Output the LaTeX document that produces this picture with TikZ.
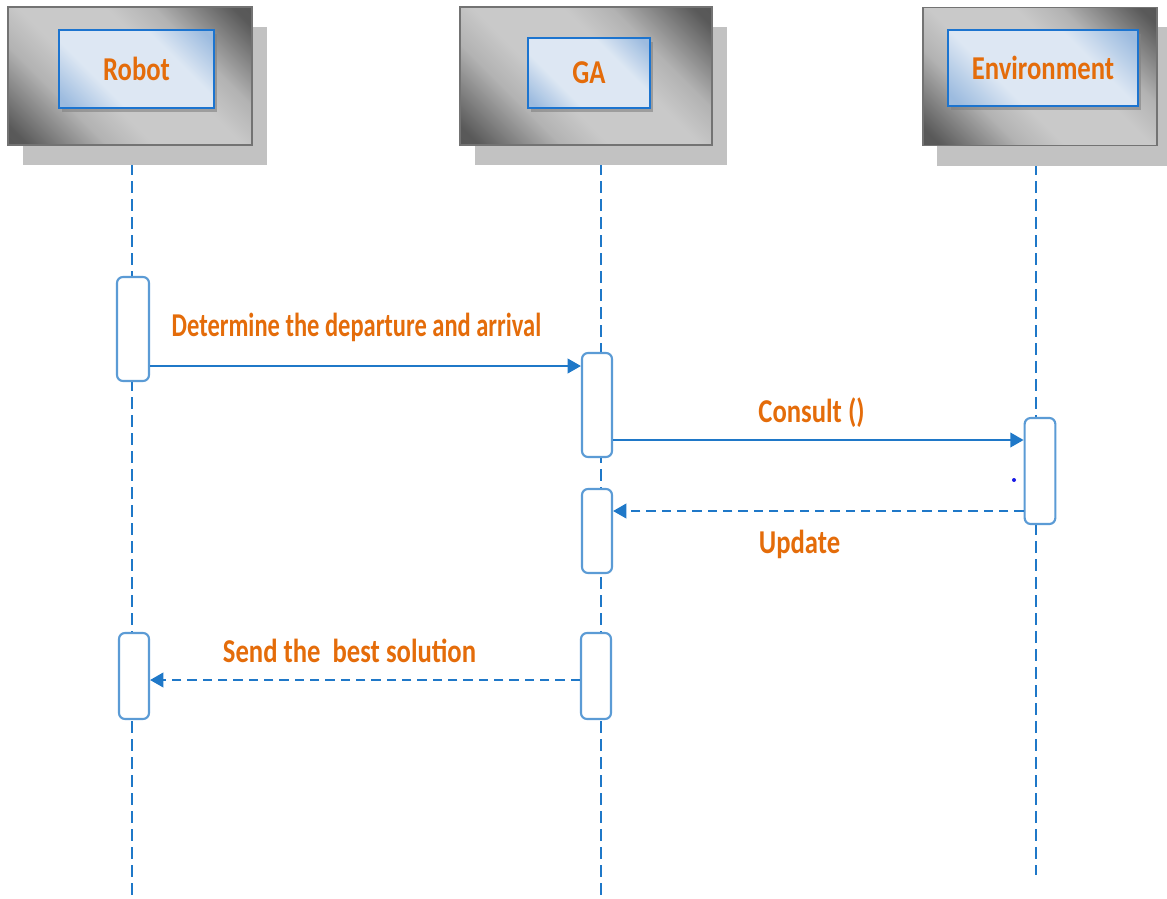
\documentclass[tikz,border=0pt]{standalone}
\usepackage{fontspec}
\setmainfont{Carlito}
\newfontfamily\diagfont{Carlito}[FakeStretch=0.8]
\newfontfamily\longfont{Carlito}[FakeStretch=0.735]
\usetikzlibrary{arrows.meta}

\definecolor{lifeblue}{HTML}{1F78C8}
\definecolor{actblue}{HTML}{5B9BD5}
\definecolor{hdrblue}{HTML}{1C74CF}
\definecolor{msgorange}{HTML}{E46C0A}
\definecolor{dotblue}{HTML}{1A1AE6}
\definecolor{paleblue}{HTML}{DDE7F3}
\definecolor{bandblue}{HTML}{9CBBDF}

\pgfdeclareverticalshading{hdrshade}{100bp}{color(0bp)=(black!68); color(18bp)=(black!65);
  color(33bp)=(black!30); color(42bp)=(black!21); color(58bp)=(black!21);
  color(67bp)=(black!30); color(82bp)=(black!65); color(100bp)=(black!68)}
\pgfdeclareverticalshading{nameshade}{100bp}{color(0bp)=(bandblue); color(18bp)=(bandblue);
  color(35bp)=(paleblue); color(65bp)=(paleblue); color(82bp)=(bandblue); color(100bp)=(bandblue)}

\tikzset{
  hdrbox/.style={draw=black!55, line width=0.8pt, shading=hdrshade, shading angle=-45},
  hdrshadow/.style={fill=black!24},
  nameshadow/.style={fill=black!50, opacity=0.6},
  namebox/.style={draw=hdrblue, line width=2pt, shading=nameshade, shading angle=-45,
    text=msgorange, font=\diagfont\bfseries\fontsize{25}{30}\selectfont},
  act/.style={draw=actblue, line width=1.6pt, fill=white, rounded corners=4.5pt,
    minimum width=22.5pt, inner sep=0pt},
  msglabel/.style={text=msgorange, anchor=base, inner sep=0pt,
    font=\diagfont\bfseries\fontsize{25}{30}\selectfont},
  lifeline/.style={draw=lifeblue, line width=1.1pt, dash pattern=on 9pt off 4.5pt},
  call/.style={draw=lifeblue, line width=1.5pt, -{Triangle[length=10pt,width=11pt]}},
  reply/.style={call, dash pattern=on 7pt off 4.5pt}
}

\begin{document}
\begin{tikzpicture}[x=0.75pt, y=-0.75pt]
\useasboundingbox (0,0) rectangle (1167,899);

% lifelines
\coordinate (robotend) at (132,899);
\coordinate (gaend) at (601,899);
\coordinate (envend) at (1036,875);
\draw[lifeline] (132,145) -- (robotend);
\draw[lifeline] (601,145) -- (gaend);
\draw[lifeline] (1036,145) -- (envend);

% header shadows
\fill[hdrshadow] (23,27) rectangle (267,165);
\fill[hdrshadow] (475,27) rectangle (727,165);
\fill[hdrshadow] (937,27) rectangle (1167,166);

% headers
\node[hdrbox, minimum width=183pt, minimum height=103.5pt] (robothdr) at (130,76) {};
\node[hdrbox, minimum width=189pt, minimum height=103.5pt] (gahdr) at (586,76) {};
\node[hdrbox, minimum width=175.5pt, minimum height=104pt] (envhdr) at (1040,76.5) {};

\fill[nameshadow] (62,34) rectangle (217,112);
\fill[nameshadow] (531,42) rectangle (653,112);
\fill[nameshadow] (951,34) rectangle (1141,110);
\node[namebox, minimum width=116.25pt, minimum height=58.5pt] (robotname) at (136.5,69) {Robot};
\node[namebox, minimum width=91.5pt, minimum height=52.5pt] (ganame) at (589,73) {GA};
\node[namebox, minimum width=142.5pt, minimum height=57pt] (envname) at (1043,68) {Environment};

% activations
\node[act, minimum width=24pt, minimum height=78pt] (ract1) at (133,329) {};
\node[act, minimum height=78pt] (gact1) at (597,405) {};
\node[act, minimum width=23pt, minimum height=79.5pt] (eact) at (1040,471) {};
\node[act, minimum height=63pt] (gact2) at (597,531) {};
\node[act, minimum height=64.5pt] (ract2) at (134,676) {};
\node[act, minimum height=64.5pt] (gact3) at (596,676) {};

% messages
\coordinate (m1) at (0,366);
\coordinate (m2) at (0,440);
\coordinate (m3) at (0,511);
\coordinate (m4) at (0,680);
\draw[call] (ract1.east |- m1) -- (gact1.west |- m1);
\draw[call] (gact1.east |- m2) -- (eact.west |- m2);
\draw[reply] (eact.west |- m3) -- (gact2.east |- m3);
\draw[reply] (gact3.west |- m4) -- (ract2.east |- m4);

\node[msglabel, font=\longfont\bfseries\fontsize{25}{30}\selectfont] (lbl1) at (356.5,336) {Determine the departure and arrival};
\node[msglabel] (lbl2) at (811.5,422) {Consult ()};
\node[msglabel] (lbl3) at (799.5,553) {Update};
\node[msglabel] (lbl4) at (349.5,662) {Send the~ best solution};

\fill[dotblue] (1014,480) circle (1.5pt);
\end{tikzpicture}
\end{document}
